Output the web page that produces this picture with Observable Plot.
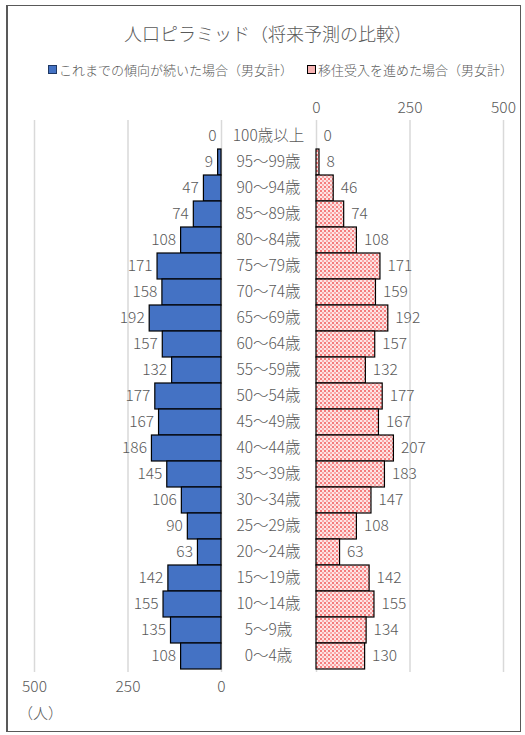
<!DOCTYPE html>
<html><head><meta charset="utf-8">
<script src="https://cdn.jsdelivr.net/npm/d3@7"></script>
<script src="https://cdn.jsdelivr.net/npm/@observablehq/plot@0.6"></script>
<style>
body{margin:0;background:#fff;font-family:"Noto Sans CJK JP","Noto Sans",sans-serif;color:#595959;}
#wrap{position:relative;width:525px;height:735px;overflow:hidden;}
#frame{position:absolute;left:6px;top:5px;width:515px;height:727px;border:1px solid #595959;box-sizing:border-box;border-left-width:2px;}
#title{position:absolute;left:6px;width:524px;top:20px;text-align:center;font-size:18px;font-weight:300;}
#legend{position:absolute;left:48px;top:60px;font-size:13px;white-space:nowrap;font-weight:300;}
#legend span.sw{display:inline-block;width:7px;height:7px;margin-right:2px;vertical-align:1px;}
.plot{position:absolute;left:0;top:90px;}
#unit{position:absolute;left:18px;top:702px;font-size:15px;font-weight:300;}
</style></head>
<body><div id="wrap">
<div id="frame"></div>
<div id="title">人口ピラミッド（将来予測の比較）</div>
<div id="legend"><span class="sw" style="background:#4472C4;border:1px solid #1f3864"></span>これまでの傾向が続いた場合（男女計）<span style="display:inline-block;width:14px"></span><span class="sw" style="background:#f7b3b3;border:1px solid #000"></span>移住受入を進めた場合（男女計）</div>
<div id="left" class="plot"></div>
<div id="right" class="plot"></div>
<div id="unit">（人）</div>
</div>
<script>
const ages = ["100歳以上","95～99歳","90～94歳","85～89歳","80～84歳","75～79歳","70～74歳","65～69歳","60～64歳","55～59歳","50～54歳","45～49歳","40～44歳","35～39歳","30～34歳","25～29歳","20～24歳","15～19歳","10～14歳","5～9歳","0～4歳"];
const trend = [0,9,47,74,108,171,158,192,157,132,177,167,186,145,106,90,63,142,155,135,108];
const migrate = [0,8,46,74,108,171,159,192,157,132,177,167,207,183,147,108,63,142,155,134,130];
const ticks = [0,250,500];

const leftData = ages.map((a,i)=>({age:a, v:trend[i]}));
const rightData = ages.map((a,i)=>({age:a, v:migrate[i]}));
const font = '"Noto Sans CJK JP","Noto Sans",sans-serif';
const fs = 15.5;
const common = {
  width:525, height:610, marginTop:30, marginBottom:28,
  style:{fontFamily:font, fontSize:fs+"px", fontWeight:300, color:"#595959", background:"transparent", overflow:"visible"},
  y:{domain:ages, padding:0, axis:null}
};

const left = Plot.plot({
  ...common,
  marginLeft:34, marginRight:304,
  x:{domain:[500,0], ticks:ticks, axis:null},
  marks:[
    Plot.gridX(ticks,{stroke:"#d9d9d9", strokeOpacity:1, strokeWidth:1.5}),
    Plot.axisX(ticks,{anchor:"bottom", label:null, tickSize:0, tickPadding:8, fontSize:fs, fill:"#595959", tickFormat:d=>String(d)}),
    Plot.barX(leftData,{x1:0, x2:"v", y:"age", fill:"#4472C4", stroke:"#000", strokeWidth:1.2}),
    Plot.text(leftData,{x:"v", y:"age", text:d=>String(d.v), textAnchor:"end", dx:-5, fontSize:fs, fill:"#595959"}),
    Plot.text(leftData,{x:0, y:"age", text:"age", textAnchor:"middle", dx:47, fontSize:fs, fill:"#595959"})
  ]
});
document.getElementById("left").appendChild(left);

const right = Plot.plot({
  ...common,
  marginLeft:316, marginRight:22,
  x:{domain:[0,500], ticks:ticks, axis:null},
  marks:[
    Plot.gridX(ticks,{stroke:"#d9d9d9", strokeOpacity:1, strokeWidth:1.5}),
    Plot.axisX(ticks,{anchor:"top", label:null, tickSize:0, tickPadding:8, fontSize:fs, fill:"#595959", tickFormat:d=>String(d)}),
    Plot.barX(rightData,{x1:0, x2:"v", y:"age", fill:"url(#dots)", stroke:"#000", strokeWidth:1.2}),
    Plot.text(rightData,{x:"v", y:"age", text:d=>String(d.v), textAnchor:"start", dx:7, fontSize:fs, fill:"#595959"})
  ]
});
const ns = "http://www.w3.org/2000/svg";
const defs = document.createElementNS(ns,"defs");
defs.innerHTML = `<pattern id="dots" width="4" height="4" patternUnits="userSpaceOnUse">
<rect width="4" height="4" fill="#fde4e4"/>
<rect x="0" y="0" width="2" height="2" fill="#f47c7c"/>
<rect x="2" y="2" width="2" height="2" fill="#f9a8a8"/>
</pattern>`;
right.insertBefore(defs, right.firstChild);
document.getElementById("right").appendChild(right);
</script>
</body></html>
